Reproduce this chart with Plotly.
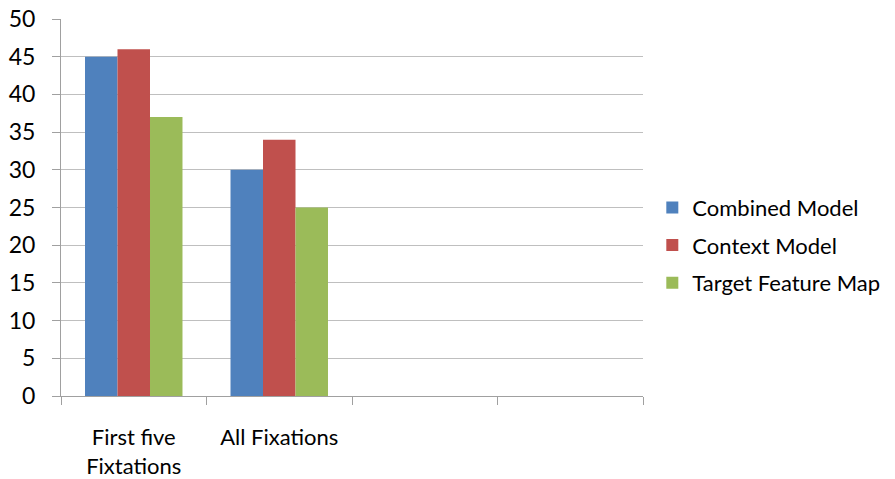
import plotly.graph_objects as go

categories = ["First five<br>Fixtations", "All Fixations", " ", "  "]
series_names = ["Combined Model", "Context Model", "Target Feature Map"]
combined = [45, 30, None, None]
context = [46, 34, None, None]
target_map = [37, 25, None, None]
colors = ["#4F81BD", "#C0504D", "#9BBB59"]
y_ticks = list(range(0, 51, 5))

fig = go.Figure()
for i, (name, vals, col) in enumerate(zip(series_names, [combined, context, target_map], colors)):
    fig.add_trace(go.Bar(x=categories, y=vals, name=name, legendgroup=f"g{i}",
                         marker=dict(color=col, line=dict(width=0))))

font_family = "Lato, 'Open Sans', sans-serif"
fig.update_layout(
    width=895, height=479,
    margin=dict(l=61, r=252, t=19, b=83, autoexpand=False),
    paper_bgcolor="white", plot_bgcolor="white",
    barmode="group", bargap=0.33, bargroupgap=0,
    font=dict(family=font_family, size=22, color="black"),
    legend=dict(x=1.016, y=0.40, xanchor="left", yanchor="middle",
                font=dict(size=22), tracegroupgap=6, itemwidth=30),
    showlegend=True,
)
fig.update_xaxes(
    type="category", tickson="boundaries", ticks="outside", ticklen=8,
    tickcolor="#A0A0A0", showline=True, linecolor="#A0A0A0", linewidth=1,
    showgrid=False, ticklabelstandoff=22, tickfont=dict(size=22),
)
fig.update_yaxes(
    range=[0, 50], tickvals=y_ticks, ticks="outside", ticklen=8,
    tickcolor="#A0A0A0", showline=True, linecolor="#A0A0A0", linewidth=1,
    showgrid=True, gridcolor="#BFBFBF", gridwidth=1, zeroline=False,
    ticklabelstandoff=12, tickfont=dict(size=23),
)
fig.write_html("out.html")
